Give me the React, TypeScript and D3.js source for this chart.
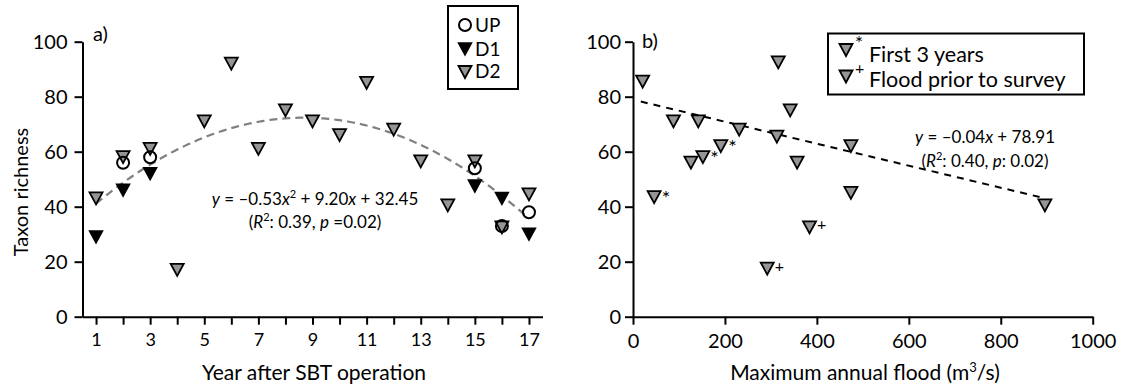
import { useEffect, useRef } from 'react';
import * as d3 from 'd3';

// panel a) taxon richness by year after SBT operation
const years = [1, 2, 3, 4, 5, 6, 7, 8, 9, 10, 11, 12, 13, 14, 15, 16, 17];
const d2Richness = [43, 58, 61, 17, 71, 92, 61, 75, 71, 66, 85, 68, 56.5, 40.5, 56.5, 32.5, 44.5];
const d1Years = [1, 2, 3, 15, 16, 17];
const d1Richness = [29, 46, 52, 47.5, 43, 30];
const upYears = [2, 3, 15, 16, 17];
const upRichness = [56, 58, 54, 33, 38];
const quadFit = [-0.53, 9.2, 32.45];

// panel b) richness vs maximum annual flood (D2)
const floodMax = [21, 46, 88, 126, 142, 152, 191, 231, 316, 313, 342, 357, 292, 384, 474, 474, 896];
const floodRichness = [85.5, 43.5, 71, 56, 71, 58, 62, 68, 92.5, 65.5, 75, 56, 17.5, 32.5, 62, 45, 40.5];
const floodNote = ['', '*', '', '', '', '*', '*', '', '', '', '', '', '+', '+', '', '', ''];
const linFit = [-0.04, 78.91];

const yTicks = [0, 20, 40, 60, 80, 100];
const floodTicks = [0, 200, 400, 600, 800, 1000];

const FONT = 'Lato';
const GRAY = '#959595';
const TRI = 'M-6.5,-6L6.5,-6L0,6Z'; // downward triangle, centred on its box

const App = () => {
  const svgRef = useRef(null);

  useEffect(() => {
    const svg = d3.select(svgRef.current);
    svg.selectAll('*').remove();

    const y = d3.scaleLinear().domain([0, 100]).range([316.7, 41.7]);
    const xA = d3.scaleLinear().domain([0.5, 17.5]).range([82.5, 542.5]);
    const xB = d3.scaleLinear().domain([0, 1000]).range([633, 1092.7]);

    const styleAxis = (g, fs) => {
      g.select('.domain').attr('stroke-width', 2);
      g.selectAll('.tick line').attr('stroke-width', 2);
      g.selectAll('.tick text').attr('font-size', fs).attr('font-family', FONT).attr('fill', '#000');
    };

    // ---- panel a ----
    const a = svg.append('g');
    a.append('g')
      .attr('transform', `translate(0,${y(0)})`)
      .call(d3.axisBottom(xA).tickValues(years).tickFormat(d => (d % 2 ? String(d) : '')).tickSize(8).tickSizeOuter(0).tickPadding(9))
      .call(g => styleAxis(g, 18));
    a.append('g')
      .attr('transform', `translate(${xA(0.5)},0)`)
      .call(d3.axisLeft(y).tickValues(yTicks).tickSize(8).tickSizeOuter(0).tickPadding(7))
      .call(g => styleAxis(g, 20));

    const curve = d3.line()
      .x(d => xA(d))
      .y(d => y(quadFit[0] * d * d + quadFit[1] * d + quadFit[2]));
    a.append('path')
      .attr('d', curve(d3.range(1, 17.01, 0.1)))
      .attr('fill', 'none')
      .attr('stroke', '#808080')
      .attr('stroke-width', 2.2)
      .attr('stroke-dasharray', '8,5');

    a.selectAll('.d1').data(d1Years).enter().append('path')
      .attr('d', TRI)
      .attr('transform', (d, i) => `translate(${xA(d)},${y(d1Richness[i])})`)
      .attr('fill', '#000').attr('stroke', '#000').attr('stroke-width', 1.5);
    a.selectAll('.d2').data(years).enter().append('path')
      .attr('d', TRI)
      .attr('transform', (d, i) => `translate(${xA(d)},${y(d2Richness[i])})`)
      .attr('fill', GRAY).attr('stroke', '#000').attr('stroke-width', 1.8);
    a.selectAll('.up').data(upYears).enter().append('circle')
      .attr('cx', d => xA(d))
      .attr('cy', (d, i) => y(upRichness[i]))
      .attr('r', 6)
      .attr('fill', 'none').attr('stroke', '#000').attr('stroke-width', 2);

    a.append('text').attr('x', 93).attr('y', 41).attr('font-family', FONT).attr('font-size', 20).text('a)');

    a.append('text')
      .attr('transform', 'translate(28,192) rotate(-90)')
      .attr('text-anchor', 'middle').attr('font-family', FONT).attr('font-size', 20)
      .text('Taxon richness');
    a.append('text')
      .attr('x', 314).attr('y', 380)
      .attr('text-anchor', 'middle').attr('font-family', FONT).attr('font-size', 21)
      .text('Year after SBT operation');

    const eqA = a.append('text').attr('text-anchor', 'middle').attr('font-family', FONT).attr('font-size', 17);
    const l1 = eqA.append('tspan').attr('x', 315).attr('y', 205);
    l1.append('tspan').attr('font-style', 'italic').text('y');
    l1.append('tspan').text(' = \u20130.53');
    l1.append('tspan').attr('font-style', 'italic').text('x');
    l1.append('tspan').attr('font-size', 11).attr('dy', -7).text('2');
    l1.append('tspan').attr('dy', 7).text(' + 9.20');
    l1.append('tspan').attr('font-style', 'italic').text('x');
    l1.append('tspan').text(' + 32.45');
    const l2 = eqA.append('tspan').attr('x', 315).attr('y', 228);
    l2.append('tspan').text('(');
    l2.append('tspan').attr('font-style', 'italic').text('R');
    l2.append('tspan').attr('font-size', 11).attr('dy', -7).text('2');
    l2.append('tspan').attr('dy', 7).text(': 0.39, ');
    l2.append('tspan').attr('font-style', 'italic').text('p');
    l2.append('tspan').text(' =0.02)');

    // legend a
    a.append('rect').attr('x', 448).attr('y', 6).attr('width', 70).attr('height', 83)
      .attr('fill', '#fff').attr('stroke', '#000').attr('stroke-width', 2);
    a.append('circle').attr('cx', 465).attr('cy', 25).attr('r', 6)
      .attr('fill', 'none').attr('stroke', '#000').attr('stroke-width', 2);
    a.append('path').attr('d', TRI).attr('transform', 'translate(465,49)')
      .attr('fill', '#000').attr('stroke', '#000').attr('stroke-width', 1.5);
    a.append('path').attr('d', TRI).attr('transform', 'translate(465,72)')
      .attr('fill', GRAY).attr('stroke', '#000').attr('stroke-width', 1.8);
    [['UP', 32], ['D1', 56], ['D2', 78]].forEach(([t, by]) => {
      a.append('text').attr('x', 475).attr('y', by).attr('font-family', FONT).attr('font-size', 19).text(t);
    });

    // ---- panel b ----
    const b = svg.append('g');
    b.append('g')
      .attr('transform', `translate(0,${y(0)})`)
      .call(d3.axisBottom(xB).tickValues(floodTicks).tickFormat(d => String(d)).tickSize(8).tickSizeOuter(0).tickPadding(9))
      .call(g => styleAxis(g, 20));
    b.append('g')
      .attr('transform', `translate(${xB(0)},0)`)
      .call(d3.axisLeft(y).tickValues(yTicks).tickSize(8).tickSizeOuter(0).tickPadding(4))
      .call(g => styleAxis(g, 20));

    const fit = d3.line()
      .x(d => xB(d))
      .y(d => y(linFit[0] * d + linFit[1]));
    b.append('path')
      .attr('d', fit([17, 896]))
      .attr('fill', 'none')
      .attr('stroke', '#000')
      .attr('stroke-width', 2)
      .attr('stroke-dasharray', '7,6');

    b.selectAll('.pt').data(floodMax).enter().append('path')
      .attr('d', TRI)
      .attr('transform', (d, i) => `translate(${xB(d)},${y(floodRichness[i])})`)
      .attr('fill', GRAY).attr('stroke', '#000').attr('stroke-width', 1.8);
    b.selectAll('.note').data(floodMax).enter().append('text')
      .attr('x', d => xB(d) + 7.5)
      .attr('y', (d, i) => y(floodRichness[i]) + (floodNote[i] === '*' ? 8 : 3))
      .attr('font-family', FONT).attr('font-size', (d, i) => (floodNote[i] === '*' ? 20 : 16))
      .text((d, i) => floodNote[i]);

    b.append('text').attr('x', 642).attr('y', 48).attr('font-family', FONT).attr('font-size', 20).text('b)');
    const xt = b.append('text')
      .attr('x', 865).attr('y', 380)
      .attr('text-anchor', 'middle').attr('font-family', FONT).attr('font-size', 21);
    xt.append('tspan').text('Maximum annual flood (m');
    xt.append('tspan').attr('font-size', 13).attr('dy', -8).text('3');
    xt.append('tspan').attr('dy', 8).text('/s)');

    const eqB = b.append('text').attr('text-anchor', 'middle').attr('font-family', FONT).attr('font-size', 17);
    const m1 = eqB.append('tspan').attr('x', 985).attr('y', 143);
    m1.append('tspan').attr('font-style', 'italic').text('y');
    m1.append('tspan').text(' = \u20130.04');
    m1.append('tspan').attr('font-style', 'italic').text('x');
    m1.append('tspan').text(' + 78.91');
    const m2 = eqB.append('tspan').attr('x', 985).attr('y', 167);
    m2.append('tspan').text('(');
    m2.append('tspan').attr('font-style', 'italic').text('R');
    m2.append('tspan').attr('font-size', 11).attr('dy', -7).text('2');
    m2.append('tspan').attr('dy', 7).text(': 0.40, ');
    m2.append('tspan').attr('font-style', 'italic').text('p');
    m2.append('tspan').text(': 0.02)');

    // legend b
    b.append('rect').attr('x', 828).attr('y', 33.5).attr('width', 256).attr('height', 61)
      .attr('fill', '#fff').attr('stroke', '#000').attr('stroke-width', 2);
    [['*', 50, 'First 3 years', 61.5], ['+', 76.5, 'Flood prior to survey', 87]].forEach(([s, cy, t, by]) => {
      b.append('path').attr('d', TRI).attr('transform', `translate(846,${cy})`)
        .attr('fill', GRAY).attr('stroke', '#000').attr('stroke-width', 1.8);
      b.append('text').attr('x', 855).attr('y', s === '*' ? 50 : 73.5)
        .attr('font-family', FONT).attr('font-size', s === '*' ? 19 : 16).text(s);
      b.append('text').attr('x', 869).attr('y', by)
        .attr('font-family', FONT).attr('font-size', 21.5).text(t);
    });
  }, []);

  return (
    <svg
      ref={svgRef}
      width={1124}
      height={385}
      style={{ position: 'absolute', left: 0, top: 0, background: '#fff' }}
    />
  );
};

export default App;
